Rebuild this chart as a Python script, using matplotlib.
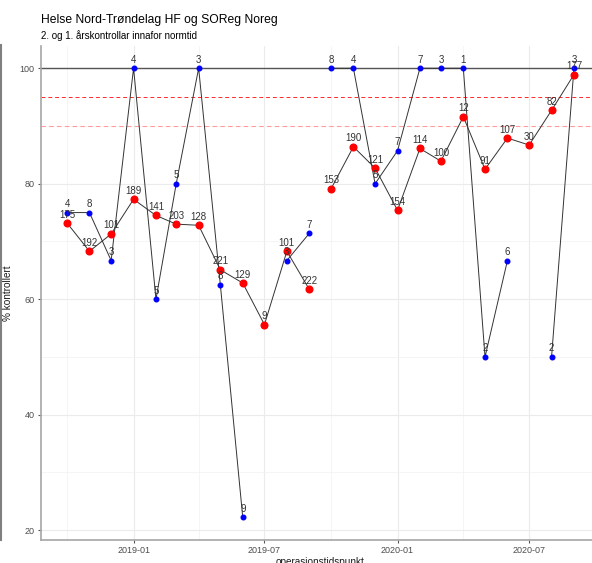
import numpy as np
import pandas as pd
import matplotlib
matplotlib.use("Agg")
import matplotlib.pyplot as plt
import matplotlib.dates as mdates
from matplotlib.lines import Line2D

plt.rcParams["font.family"] = ["Liberation Sans", "DejaVu Sans"]

months = ["2018-10", "2018-11", "2018-12", "2019-01", "2019-02", "2019-03",
          "2019-04", "2019-05", "2019-06", "2019-07", "2019-08", "2019-09",
          "2019-10", "2019-11", "2019-12", "2020-01", "2020-02", "2020-03",
          "2020-04", "2020-05", "2020-06", "2020-07", "2020-08", "2020-09"]

# SOReg Noreg (red)
noreg_pct = [73.2, 68.3, 71.3, 77.3, 74.5, 73.0, 72.8, 65.1, 62.8, 55.6, 68.3, 61.7,
             79.1, 86.4, 82.7, 75.4, 86.1, 83.9, 91.6, 82.5, 87.9, 86.7, 92.7, 98.9]
noreg_n = [175, 192, 101, 189, 141, 203, 128, 221, 129, 9, 101, 222,
           153, 190, 121, 154, 114, 100, 12, 91, 107, 30, 82, 177]

# Helse Nord-Trøndelag HF (blue)
hf_pct = [75.0, 75.0, 66.7, 100, 60.0, 80.0, 100, 62.5, 22.2, np.nan, 66.7, 71.4,
          100, 100, 80.0, 85.7, 100, 100, 100, 50.0, 66.7, np.nan, 50.0, 100]
hf_n = [4, 8, 3, 4, 5, 5, 3, 8, 9, None, 3, 7,
        8, 4, 5, 7, 7, 3, 1, 2, 6, None, 2, 3]

# two periods, lines are not joined across them
periods = [(0, 12), (12, 24)]

dates = pd.to_datetime(months)
noreg_pct = np.array(noreg_pct, dtype=float)
hf_pct = np.array(hf_pct, dtype=float)

fig = plt.figure(figsize=(5.92, 5.63), dpi=100)
ax = fig.add_axes([41 / 592, 1 - 540 / 563, 559 / 592, (540 - 45.7) / 563])

ax.axhline(100, color="#555555", lw=1.0, zorder=1)
ax.axhline(95, color="#ff2a2a", lw=0.7, ls=(0, (4, 3)), zorder=1)
ax.axhline(90, color="#ff9c9c", lw=0.8, ls=(0, (4, 3)), zorder=1)

for a, b in periods:
    ax.plot(dates[a:b], noreg_pct[a:b], color="#333333", lw=0.7, zorder=2)
    ax.plot(dates[a:b], hf_pct[a:b], color="#333333", lw=0.7, zorder=2)

ax.plot(dates, noreg_pct, "o", color="red", ms=4.8, mec="red", zorder=3, ls="none")
ax.plot(dates, hf_pct, "o", color="blue", ms=3.3, mec="blue", zorder=4, ls="none")

for d, p, n in zip(dates, noreg_pct, noreg_n):
    ax.annotate(str(n), (d, p), xytext=(0, 2.5), textcoords="offset points",
                ha="center", va="bottom", fontsize=7, color="#333333", zorder=5)
for d, p, n in zip(dates, hf_pct, hf_n):
    if n is None or np.isnan(p):
        continue
    ax.annotate(str(n), (d, p), xytext=(0, 2.5), textcoords="offset points",
                ha="center", va="bottom", fontsize=7, color="#333333", zorder=5)

ax.set_ylim(18.3, 103.9)
ax.set_xlim(pd.Timestamp("2018-08-26"), pd.Timestamp("2020-10-07"))

ax.set_yticks([20, 40, 60, 80, 100])
ax.set_yticks([30, 50, 70, 90], minor=True)
ax.set_xticks(pd.to_datetime(["2019-01-01", "2019-07-01", "2020-01-01", "2020-07-01"]))
ax.set_xticks(pd.to_datetime(["2018-10-01", "2019-04-01", "2019-10-01", "2020-04-01"]), minor=True)
ax.xaxis.set_major_formatter(mdates.DateFormatter("%Y-%m"))

ax.grid(True, which="major", color="#ebebeb", lw=0.8, zorder=0)
ax.grid(True, which="minor", color="#f2f2f2", lw=0.5, zorder=0)
ax.set_axisbelow(True)

for s in ["top", "right"]:
    ax.spines[s].set_visible(False)
for s in ["left", "bottom"]:
    ax.spines[s].set_color("#a6a6a6")
    ax.spines[s].set_linewidth(1.2)

ax.tick_params(which="major", length=2.5, color="#555555", labelsize=6.5, labelcolor="#4d4d4d", pad=2)
ax.tick_params(which="minor", length=0)

ax.set_ylabel("% kontrollert", fontsize=7.2, color="#1a1a1a", labelpad=5)
ax.set_xlabel("operasjonstidspunkt", fontsize=7.2, color="#1a1a1a", labelpad=1.5)

fig.text(41 / 592, 1 - 20 / 563, "Helse Nord-Trøndelag HF og SOReg Noreg",
         fontsize=8.7, color="black", va="center", ha="left")
fig.text(41 / 592, 1 - 35.5 / 563, "2. og 1. årskontrollar innafor normtid",
         fontsize=7, color="black", va="center", ha="left")

fig.add_artist(Line2D([0.6 / 592, 0.6 / 592], [1 - 540 / 563, 1 - 45 / 563],
                      transform=fig.transFigure, color="#808080", lw=1.5))

fig.savefig("out.png", dpi=100)
